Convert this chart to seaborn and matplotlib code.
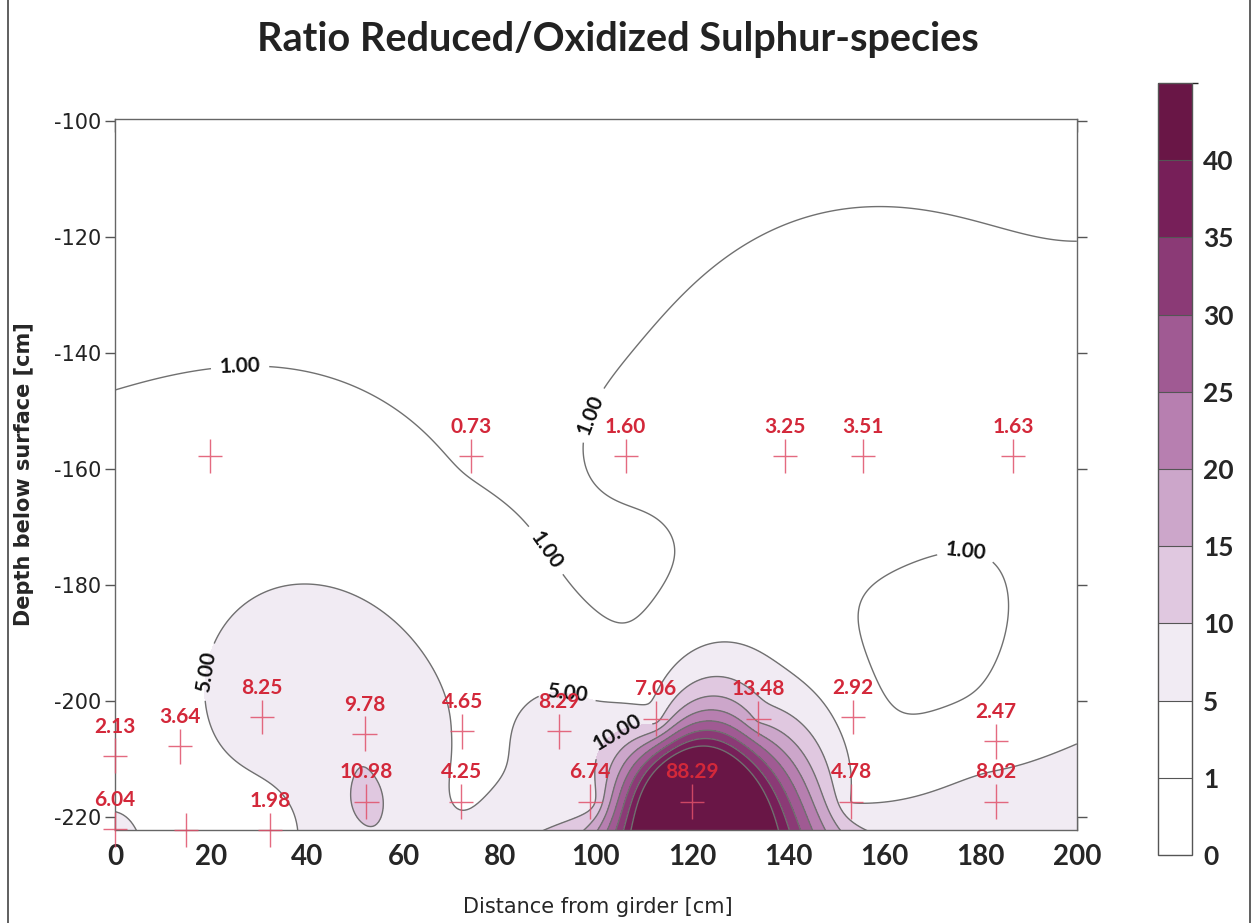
import numpy as np
import pandas as pd
import matplotlib
matplotlib.use("Agg")
import matplotlib.pyplot as plt
import seaborn as sns
from matplotlib.colors import ListedColormap, BoundaryNorm
from matplotlib.path import Path

# Sampling positions: distance from girder [cm], depth below surface [cm], ratio
upper_dist = [74.1, 106.2, 139.4, 155.6, 186.7]
upper_depth = [-157.8, -157.8, -157.8, -157.8, -157.8]
upper_ratio = [0.73, 1.60, 3.25, 3.51, 1.63]

lower_dist = [0.0, 0.0, 13.5, 30.5, 32.2, 51.9, 52.3, 72.2, 72.0,
              92.3, 98.8, 112.4, 120.0, 133.8, 153.5, 153.1, 183.2, 183.2]
lower_depth = [-209.5, -222.2, -207.9, -202.8, -222.3, -205.7, -217.4, -205.3, -217.4,
               -205.3, -217.4, -203.1, -217.4, -203.1, -202.8, -217.4, -207.0, -217.4]
lower_ratio = [2.13, 6.04, 3.64, 8.25, 1.98, 9.78, 10.98, 4.65, 4.25,
               8.29, 6.74, 7.06, 88.29, 13.48, 2.92, 4.78, 2.47, 8.02]

# Sampled positions whose ratio is not printed on the map (estimated values)
unlabeled_dist = [19.7, 14.7]
unlabeled_depth = [-157.8, -222.3]
unlabeled_ratio = [2.0, 3.0]

# Class boundaries of the colour scale
levels = [0, 1, 5, 10, 15, 20, 25, 30, 35, 40, 100]
band_colors = ["#ffffff", "#ffffff", "#f1ebf3", "#e0c8e0", "#cca6ca", "#b77fb0",
               "#a05a93", "#8b3a76", "#771f59", "#691646"]
line_levels = [1, 5, 10, 15, 20, 25, 30, 35, 40]

labeled = pd.DataFrame({
    "dist": upper_dist + lower_dist,
    "depth": upper_depth + lower_depth,
    "ratio": upper_ratio + lower_ratio,
})
unlabeled = pd.DataFrame({"dist": unlabeled_dist, "depth": unlabeled_depth,
                          "ratio": unlabeled_ratio})
samples = pd.concat([labeled, unlabeled], ignore_index=True)


def ordinary_kriging(px, py, pv, gx, gy):
    """Ordinary kriging with a linear variogram, evaluated on a grid."""
    px = np.asarray(px, dtype=float)
    py = np.asarray(py, dtype=float)
    pv = np.asarray(pv, dtype=float)
    n = len(px)
    gamma = np.hypot(px[:, None] - px[None, :], py[:, None] - py[None, :])
    A = np.ones((n + 1, n + 1))
    A[:n, :n] = -gamma
    A[n, n] = 0.0
    sol = np.linalg.solve(A, np.concatenate([pv, [0.0]]))
    w, c = sol[:n], sol[n]
    rg = np.hypot(gx[..., None] - px, gy[..., None] - py)
    return -rg @ w + c


sns.set_theme(style="white")
plt.rcParams["font.family"] = ["DejaVu Sans"]
bold_face = ["Lato", "DejaVu Sans"]

fig = plt.figure(figsize=(12.59, 9.23), dpi=100)
ax = fig.add_axes([0.0913, 0.1008, 0.764, 0.7702])
cax = fig.add_axes([0.9198, 0.0737, 0.027, 0.8363])

gx, gy = np.meshgrid(np.linspace(0, 200, 501), np.linspace(-222.5, -99.5, 309))
field = ordinary_kriging(samples["dist"], samples["depth"], samples["ratio"], gx, gy)
field_plot = np.clip(field, 0, 99)

cmap = ListedColormap(band_colors)
norm = BoundaryNorm(levels, cmap.N)
cf = ax.contourf(gx, gy, field_plot, levels=levels, cmap=cmap, norm=norm)
cl = ax.contour(gx, gy, field_plot, levels=line_levels, colors="#707070", linewidths=1.0)

label_spots = [(26, -142), (97, -150), (88, -175), (177, -174),
               (19, -195), (94, -199), (103, -203)]
clabels = ax.clabel(cl, levels=[1, 5, 10], manual=label_spots, inline=True,
                    inline_spacing=6, fmt="%.2f", fontsize=15, colors="#111111")
for t in clabels:
    t.set_family(bold_face)
    t.set_fontweight("bold")

# Sample crosses
cross = Path([(-0.35, 0), (0.35, 0), (0, -0.5), (0, 0.5)],
             [Path.MOVETO, Path.LINETO, Path.MOVETO, Path.LINETO])
sns.scatterplot(data=samples, x="dist", y="depth", marker=cross, s=620,
                color="none", edgecolor="#e0506a", linewidth=1.0, alpha=0.85,
                ax=ax, legend=False, zorder=5, clip_on=False)

for xv, yv, val in zip(labeled["dist"], labeled["depth"], labeled["ratio"]):
    ax.annotate(f"{val:.2f}", (xv, yv), xytext=(0, 21), textcoords="offset points",
                ha="center", va="center", color="#d3283a", fontsize=15,
                fontweight="bold", family=bold_face, zorder=6, annotation_clip=False)

ax.set_xlim(0, 200)
ax.set_ylim(-222.3, -99.7)
ax.set_xticks(np.arange(0, 201, 20))
ax.set_yticks(np.arange(-220, -99, 20))
ax.set_xticklabels([str(v) for v in range(0, 201, 20)], fontsize=20,
                   fontweight="bold", family=bold_face)
ax.set_yticklabels([f"-{abs(v)}" for v in range(-220, -99, 20)], fontsize=15, color="#222222")
ax.tick_params(axis="x", direction="in", length=9, width=1, color="#555555", pad=10,
               top=True, bottom=True, labeltop=False)
ax.tick_params(axis="y", direction="out", length=7, width=1, color="#555555", pad=3,
               left=True, right=True, labelright=False)
for side in ["top", "right", "bottom", "left"]:
    ax.spines[side].set_color("#666666")
    ax.spines[side].set_linewidth(1.0)

ax.set_xlabel("Distance from girder [cm]", fontsize=15, va="top")
ax.xaxis.set_label_coords(0.502, -0.094)
ax.set_ylabel("Depth below surface [cm]", fontsize=15, fontweight="bold", labelpad=14)

fig.text(0.491, 0.957, "Ratio Reduced/Oxidized Sulphur-species", ha="center", va="center",
         fontsize=28.5, fontweight="bold", family=bold_face, color="#222222")

cb = fig.colorbar(cf, cax=cax, spacing="uniform", drawedges=True)
cb.set_ticks(levels[:-1])
cb.set_ticklabels([str(v) for v in levels[:-1]])
cb.ax.tick_params(length=0, pad=8)
for t in cb.ax.get_yticklabels():
    t.set_fontsize(19)
    t.set_fontweight("bold")
    t.set_family(bold_face)
cb.outline.set_edgecolor("#555555")
cb.outline.set_linewidth(1.0)
cb.dividers.set_color("#555555")
cb.dividers.set_linewidth(0.8)

fig.add_artist(plt.Rectangle((0.006, -0.01), 0.987, 1.03, transform=fig.transFigure,
                             fill=False, edgecolor="#444444", linewidth=1.2))

fig.savefig("out.png", dpi=100)
